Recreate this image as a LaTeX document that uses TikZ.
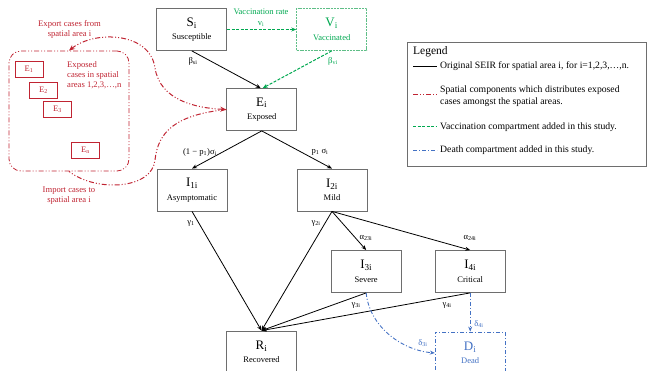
\documentclass[tikz,border=0pt]{standalone}
\usepackage{fontspec}
\setmainfont{Liberation Serif}
\usetikzlibrary{arrows.meta}
\definecolor{dred}{RGB}{192,36,50}
\definecolor{vgreen}{RGB}{0,168,80}
\definecolor{lgreen}{RGB}{95,190,135}
\definecolor{dblue}{RGB}{68,114,196}
\definecolor{boxgray}{RGB}{110,110,110}
\newcommand{\cmptext}[3]{{\fontsize{13}{14}\selectfont #1\textsubscript{#2}}\\[3.5pt]#3}
\begin{document}
\begin{tikzpicture}[x=1pt,y=-1pt,
  box/.style={draw=boxgray,line width=0.8pt,minimum width=70pt,minimum height=42pt,inner sep=0pt,align=center,font=\fontsize{8.5}{10}\selectfont},
  ebox/.style={draw=dred,line width=0.7pt,minimum width=28pt,minimum height=16pt,inner sep=0pt,font=\fontsize{8.5}{10}\selectfont,text=dred},
  arr/.style={-{Stealth[length=5pt,width=4pt]},line width=0.8pt},
  lab/.style={font=\fontsize{8.6}{9}\selectfont,inner sep=0pt},
  redtxt/.style={font=\fontsize{8.6}{10}\selectfont,text=dred,inner sep=0pt,align=center},
  reddash/.style={color=dred,line width=1pt,dash pattern=on 5pt off 2pt on 1pt off 2pt on 1pt off 2pt},
  grdash/.style={color=vgreen,line width=1pt,dash pattern=on 3pt off 1.5pt},
  bldash/.style={color=dblue,line width=0.9pt,dash pattern=on 4pt off 2pt on 1pt off 2pt},
  legtxt/.style={font=\fontsize{9.7}{11.6}\selectfont,inner sep=0pt,anchor=west,align=left},
]
\useasboundingbox (0,0) rectangle (647,371);

% compartments
\node[box] (S) at (191.8,29.5) {\cmptext{S}{i}{Susceptible}};
\node[box,draw=lgreen,text=vgreen,dash pattern=on 2pt off 0.8pt] (V) at (331.7,29.5) {\cmptext{V}{i}{Vaccinated}};
\node[box] (E) at (261.7,109.5) {\cmptext{E}{i}{Exposed}};
\node[box] (I1) at (192,190) {\cmptext{I}{1i}{Asymptomatic}};
\node[box] (I2) at (332,190) {\cmptext{I}{2i}{Mild}};
\node[box] (I3) at (366.2,271.5) {\cmptext{I}{3i}{Severe}};
\node[box] (I4) at (470.2,271.5) {\cmptext{I}{4i}{Critical}};
\node[box] (R) at (261.5,352) {\cmptext{R}{i}{Recovered}};
\node[box,draw=dblue,text=dblue,dash pattern=on 4pt off 2pt on 1pt off 2pt] (D) at (470.2,353) {\cmptext{D}{i}{Dead}};

% black flows
\draw[arr] (S.south) -- ([xshift=-1pt]E.north);
\draw[arr] (E.south) -- (I1.north);
\draw[arr] (E.south) -- (I2.north);
\draw[arr] (I1.south) -- (R.north);
\draw[arr] (I2.south) -- (R.north);
\draw[arr] (I2.south) -- (I3.north);
\draw[arr] (I2.south) -- (I4.north);
\draw[arr] (I3.south) -- (R.north);
\draw[arr] (I4.south) -- (R.north);

% vaccination
\draw[arr,grdash] (S.east) -- (V.west);
\draw[arr,grdash] (V.south) -- ([xshift=1pt]E.north);

% death
\draw[arr,bldash] (I3.south) .. controls (369,325) and (400,350) .. (D.west);
\draw[arr,bldash] (I4.south) -- (D.north);

% labels
\node[lab,align=center,text=vgreen,font=\fontsize{8.5}{11}\selectfont] (vlab) at (261,18) {Vaccination rate\\v\textsubscript{i}};
\node[lab] (lbs) at (193,61) {β\textsubscript{si}};
\node[lab,text=vgreen] (lbv) at (333,61) {β\textsubscript{vi}};
\node[lab] (lsig1) at (200,152) {(1 − p\textsubscript{1})σ\textsubscript{i}};
\node[lab] (lsig2) at (320,152) {p\textsubscript{1} σ\textsubscript{i}};
\node[lab] (lg1) at (191,223) {γ\textsubscript{1}};
\node[lab] (lg2) at (316,223) {γ\textsubscript{2i}};
\node[lab] (la23) at (366,238) {α\textsubscript{23i}};
\node[lab] (la24) at (470,238) {α\textsubscript{24i}};
\node[lab] (lg3) at (356,305) {γ\textsubscript{3i}};
\node[lab] (lg4) at (447,305) {γ\textsubscript{4i}};
\node[lab,text=dblue] (ld3) at (423,343) {δ\textsubscript{3i}};
\node[lab,text=dblue] (ld4) at (479,324) {δ\textsubscript{4i}};

% spatial component
\node[draw=dred,line width=0.8pt,dash pattern=on 5pt off 2pt on 1pt off 2pt on 1pt off 2pt,rounded corners=12pt,minimum width=120pt,minimum height=120pt,inner sep=0pt] (spatial) at (69,111) {};
\node[ebox] (E1) at (29,69.5) {E\textsubscript{1}};
\node[ebox] (E2) at (43.5,90) {E\textsubscript{2}};
\node[ebox] (E3) at (57.5,109.5) {E\textsubscript{3}};
\node[ebox] (En) at (85.5,150) {E\textsubscript{n}};
\node[redtxt,align=left,anchor=north west] (exptxt) at (67,61) {Exposed\\cases in spatial\\areas 1,2,3,…,n};
\node[redtxt] (export) at (69.5,29) {Export cases from\\spatial area i};
\node[redtxt] (import) at (69,195.5) {Import cases to\\spatial area i};

\draw[reddash,{Stealth[length=6pt,width=5pt]}-{Stealth[length=6pt,width=5pt]}] (E.west) .. controls (195,108) and (160,100) .. (155,68) .. controls (150,32) and (95,30) .. (spatial.north);
\draw[reddash] (E.west) .. controls (175,115) and (158,132) .. (155,160) .. controls (152,190) and (95,192) .. (spatial.south);

% legend
\node[draw=boxgray,line width=0.8pt,minimum width=239pt,minimum height=124pt,inner sep=0pt] (legend) at (526.8,104) {};
\node[legtxt,font=\fontsize{11.5}{13}\selectfont] (lt0) at (413,52) {Legend};
\coordinate (a1) at (413,66); \coordinate (b1) at (437,66);
\coordinate (a2) at (413,95); \coordinate (b2) at (437,95);
\coordinate (a3) at (413,127); \coordinate (b3) at (437,127);
\coordinate (a4) at (413,150); \coordinate (b4) at (437,150);
\draw[line width=0.8pt] (a1) -- (b1);
\draw[reddash] (a2) -- (b2);
\draw[grdash] (a3) -- (b3);
\draw[bldash] (a4) -- (b4);
\node[legtxt] (lt1) at (440,66) {Original SEIR for spatial area i, for i=1,2,3,…,n.};
\node[legtxt] (lt2) at (440,96) {Spatial components which distributes exposed\\cases amongst the spatial areas.};
\node[legtxt] (lt3) at (440,127) {Vaccination compartment added in this study.};
\node[legtxt] (lt4) at (440,150) {Death compartment added in this study.};
\end{tikzpicture}
\end{document}
